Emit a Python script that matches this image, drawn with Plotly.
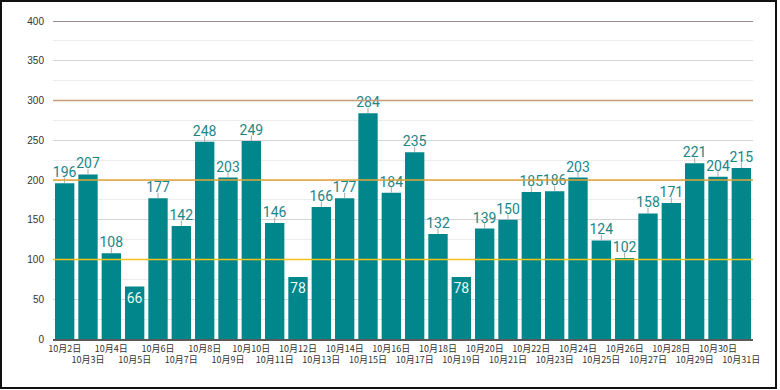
import plotly.graph_objects as go

dates = [f"10月{d}日" for d in range(2, 32)]
values = [196, 207, 108, 66, 177, 142, 248, 203, 249, 146, 78, 166, 177, 284, 184,
          235, 132, 78, 139, 150, 185, 186, 203, 124, 102, 158, 171, 221, 204, 215]
tick_labels = [d if i % 2 == 0 else "<br>" + d for i, d in enumerate(dates)]
y_ticks = [0, 50, 100, 150, 200, 250, 300, 350, 400]
ref_levels = [100, 200, 300, 400]
ref_colors = ["#f2c21b", "#e3a436", "#c89a7c", "#7e6566"]

BAR = "#00868b"
LABEL = "#1c8587"

inside = [v < 100 for v in values]
text_pos = ["inside" if i else "outside" for i in inside]
text_col = ["#e8fbfb" if i else LABEL for i in inside]
leader = [0 if i else 7 for i in inside]

fig = go.Figure()
fig.add_trace(go.Bar(
    x=dates, y=values,
    marker=dict(color=BAR, line=dict(width=0)),
    text=[str(v) for v in values],
    textposition=text_pos,
    insidetextanchor="end",
    textfont=dict(family="Roboto, Arial", size=14, color=text_col),
    constraintext="none",
    cliponaxis=False,
    error_y=dict(type="data", symmetric=False, array=leader,
                 arrayminus=[0] * len(values), color="#a9a9a9",
                 thickness=1, width=0),
    hoverinfo="skip",
))

shapes = []
for lvl, col in zip(ref_levels, ref_colors):
    shapes.append(dict(type="line", xref="paper", yref="y", x0=0, x1=1,
                       y0=lvl, y1=lvl, line=dict(color=col, width=1.5),
                       layer="above"))

W, H = 780, 390
ml, mr, mt, mb = 53, 27, 21, 51
pw, ph = W - ml - mr, H - mt - mb
shapes.append(dict(type="rect", xref="paper", yref="paper",
                   x0=(1 - ml) / pw, x1=(776 - ml) / pw,
                   y0=(H - mb - 388) / ph, y1=(H - mb - 1) / ph,
                   line=dict(color="#111111", width=2), layer="above"))

fig.update_layout(
    width=W, height=H,
    margin=dict(l=ml, r=mr, t=mt, b=mb, pad=0),
    paper_bgcolor="white", plot_bgcolor="white",
    bargap=0.17, showlegend=False,
    shapes=shapes,
    xaxis=dict(
        tickmode="array", tickvals=dates, ticktext=tick_labels,
        tickfont=dict(family="Noto Sans CJK JP", size=9, color="#333333"),
        showgrid=False, showline=True, linecolor="#595959", linewidth=1.5,
        ticks="", tickangle=0, fixedrange=True,
    ),
    yaxis=dict(
        range=[0, 400], tickvals=y_ticks, ticktext=[str(t) for t in y_ticks],
        tickfont=dict(family="Liberation Sans, Arial", size=10, color="#333333"),
        showgrid=True, gridcolor="#d4d4d4", gridwidth=1,
        minor=dict(dtick=25, showgrid=True, gridcolor="#ececec", gridwidth=1),
        zeroline=False, showline=False, ticks="", ticklabelstandoff=8,
        fixedrange=True,
    ),
)

fig.write_html("out.html", config={"displayModeBar": False},
               post_script="document.body.style.margin='0px';document.body.style.overflow='hidden';")
